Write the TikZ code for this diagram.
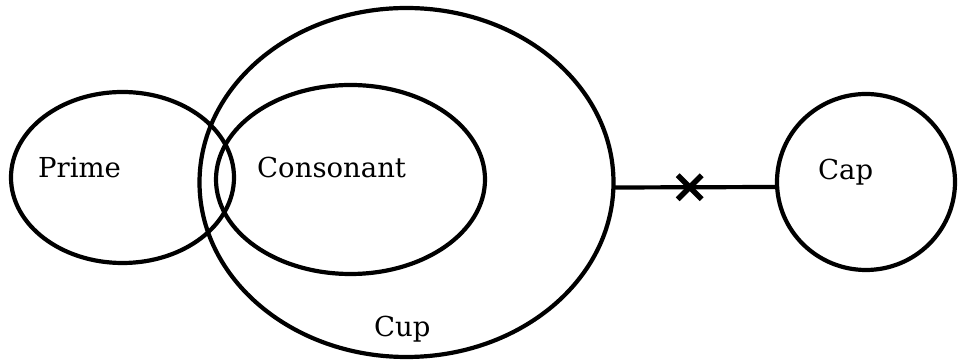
\documentclass[tikz,border=0pt]{standalone}
\usepackage{fontspec}
\setmainfont{DejaVu Serif}
\usepackage{tikz}
\usetikzlibrary{shapes.geometric}

\tikzset{
    set/.style={draw, ellipse, line width=4.2pt, inner sep=0pt, outer sep=0pt},
    setlabel/.style={anchor=base west, inner sep=0pt, font=\fontsize{27.5}{32}\selectfont}
}

\begin{document}
\begin{tikzpicture}[x=1pt, y=1pt]
    \useasboundingbox (0,0) rectangle (958,363);
    \node[set, minimum width=223pt, minimum height=171pt] (prime) at (122.5,185.5) {};
    \node[set, minimum width=414pt, minimum height=349pt] (cup) at (406.5,180.5) {};
    \node[set, minimum width=269pt, minimum height=189pt] (consonant) at (350.5,183.5) {};
    \node[set, minimum width=178pt, minimum height=176pt] (cap) at (866,181) {};
    \node[setlabel] (primelabel) at (38,185) {Prime};
    \node[setlabel] (consonantlabel) at (257,185) {Consonant};
    \node[setlabel] (cuplabel) at (374,26) {Cup};
    \node[setlabel] (caplabel) at (818,183) {Cap};
    \draw[line width=4.2pt] ([yshift=-5pt]cup.east) -- ([yshift=-5pt]cap.west)
        coordinate[pos=0.466] (cross);
    \draw[line width=5.5pt] (cross) ++(-12,-12) -- ++(24,24);
    \draw[line width=5.5pt] (cross) ++(-12,12) -- ++(24,-24);
\end{tikzpicture}
\end{document}
